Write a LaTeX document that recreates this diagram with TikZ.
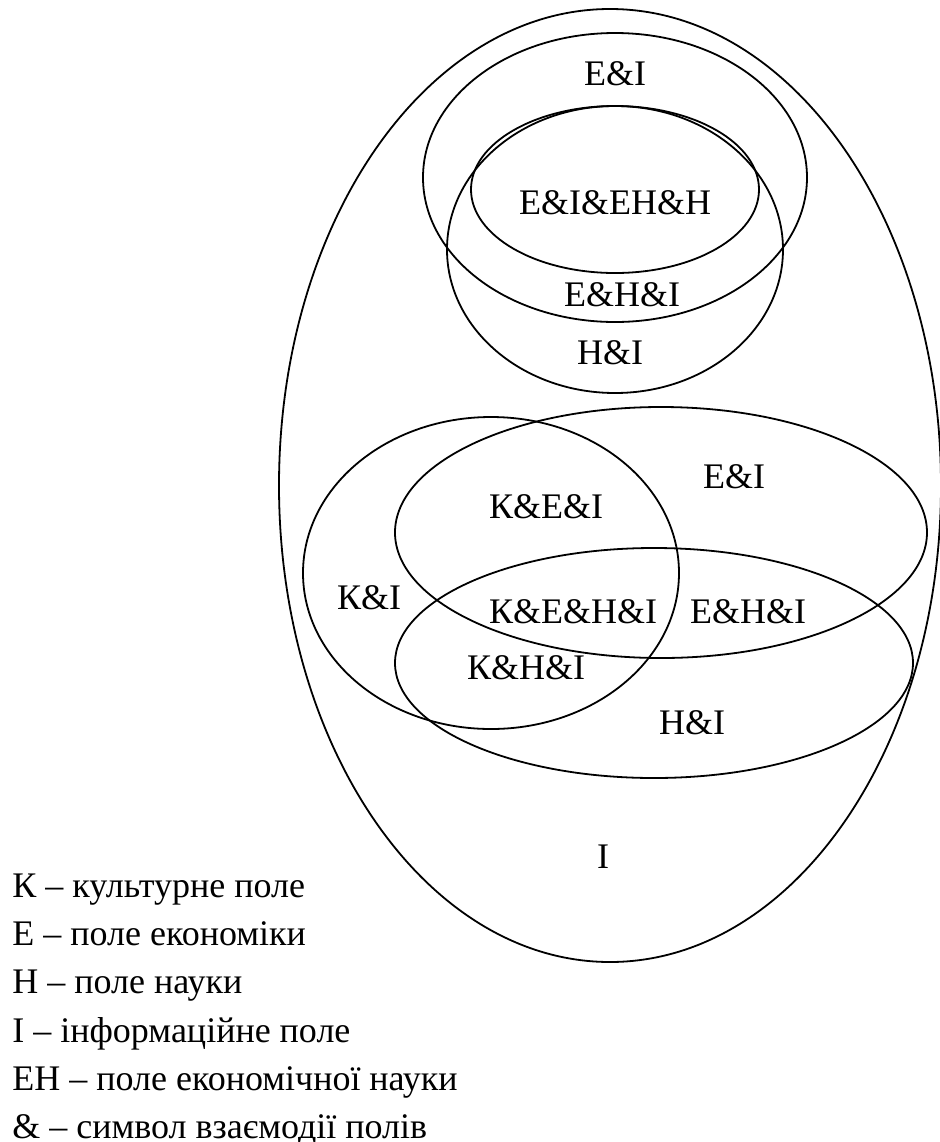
\documentclass[tikz,border=0pt]{standalone}
\usepackage{fontspec}
\setmainfont{Liberation Serif}
\begin{document}
\begin{tikzpicture}[
    x=0.5pt, y=-0.5pt,
    field/.style={draw=black, line width=0.9pt},
    zone/.style={font=\fontsize{18}{22}\selectfont, inner sep=0pt},
    keyline/.style={anchor=base west, font=\fontsize{18}{22}\selectfont, inner sep=0pt}
  ]
    \useasboundingbox (0,0) rectangle (940,1142);

    % fields
    \draw[field] (610,485.5) ellipse [x radius=331, y radius=476.5];
    \draw[field] (615,177.5) ellipse [x radius=192, y radius=144.5];
    \draw[field] (615,249.5) ellipse [x radius=168, y radius=143.5];
    \draw[field] (615,189.5) ellipse [x radius=144, y radius=83.5];
    \draw[field] (491,573) ellipse [x radius=188, y radius=156];
    \draw[field] (661,532.5) ellipse [x radius=266, y radius=125.5];
    \draw[field] (654,663) ellipse [x radius=259, y radius=115];

    % zones
    \node[zone] (topEI) at (615,74) {E\&I};
    \node[zone] (topEIEHH) at (615,203) {E\&I\&EH\&H};
    \node[zone] (topEHI) at (622,295) {E\&H\&I};
    \node[zone] (topHI) at (610,353) {H\&I};
    \node[zone] (EI) at (734,477) {E\&I};
    \node[zone] (KEI) at (546,507) {К\&E\&I};
    \node[zone] (KI) at (369,598) {К\&I};
    \node[zone] (KEHI) at (573,612) {К\&E\&H\&I};
    \node[zone] (EHI) at (748,612) {E\&H\&I};
    \node[zone] (KHI) at (526,668) {К\&H\&I};
    \node[zone] (HI) at (692,723) {H\&I};
    \node[zone] (I) at (603,857) {I};

    % legend
    \node[keyline] (keyK) at (12,897) {К – культурне поле};
    \node[keyline] (keyE) at (12,945) {Е – поле економіки};
    \node[keyline] (keyH) at (12,993) {Н – поле науки};
    \node[keyline] (keyI) at (12,1042) {І – інформаційне поле};
    \node[keyline] (keyEH) at (12,1090) {ЕН – поле економічної науки};
    \node[keyline] (keyAmp) at (12,1138) {\& – символ взаємодії полів};
\end{tikzpicture}
\end{document}
